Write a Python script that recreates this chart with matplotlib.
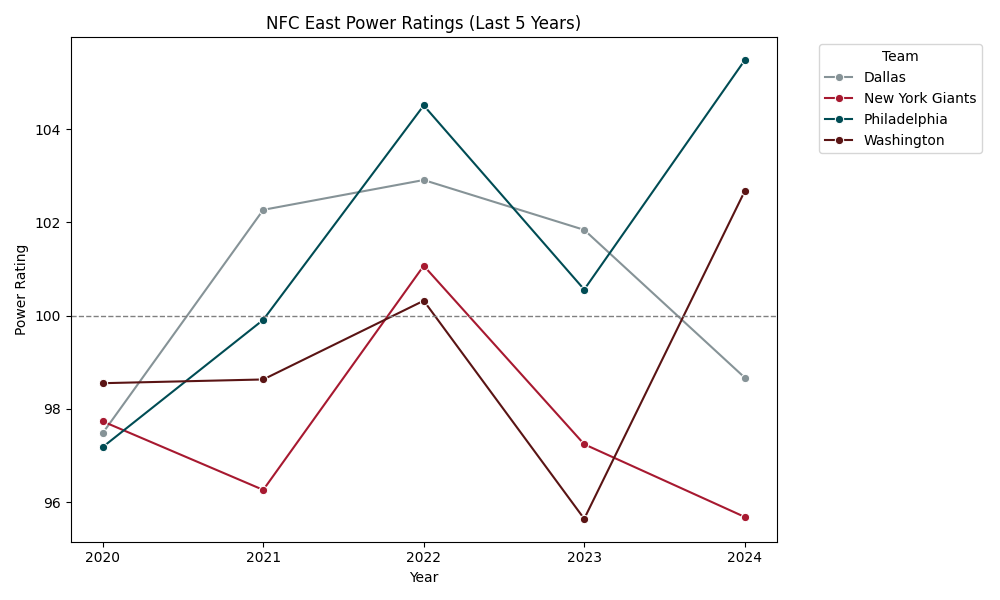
import matplotlib
matplotlib.use("Agg")
import matplotlib.pyplot as plt
import pandas as pd
import seaborn as sns

years = [2020, 2021, 2022, 2023, 2024]
teams = ["Dallas", "New York Giants", "Philadelphia", "Washington"]
dallas = [97.48, 102.27, 102.91, 101.84, 98.67]
giants = [97.73, 96.26, 101.07, 97.24, 95.68]
philly = [97.18, 99.91, 104.51, 100.56, 105.48]
washington = [98.55, 98.63, 100.32, 95.64, 102.67]
colors = ["#869397", "#A71930", "#004C54", "#5A1414"]

rows = []
for team, vals in zip(teams, [dallas, giants, philly, washington]):
    for y, v in zip(years, vals):
        rows.append({"Year": y, "Team": team, "Power Rating": v})
df = pd.DataFrame(rows)

fig, ax = plt.subplots(figsize=(10, 6), dpi=100)
sns.lineplot(data=df, x="Year", y="Power Rating", hue="Team", marker="o",
             palette=dict(zip(teams, colors)), ax=ax)
ax.axhline(100, color="gray", linestyle="--", linewidth=1)
ax.set_xticks(years)
ax.set_title("NFC East Power Ratings (Last 5 Years)")
ax.legend(title="Team", bbox_to_anchor=(1.05, 1), loc="upper left")
plt.tight_layout()
fig.savefig("out.png")
